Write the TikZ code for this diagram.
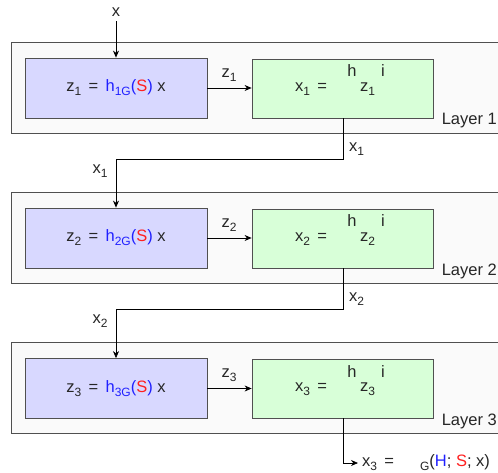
\documentclass[tikz,border=0pt]{standalone}
\usepackage{fontspec}
\setmainfont{Liberation Sans}
\usetikzlibrary{arrows.meta}
\definecolor{boxblue}{HTML}{D8D8FF}
\definecolor{boxgreen}{HTML}{D8FFD8}
\definecolor{outerfill}{HTML}{FAFAFA}
\definecolor{edgegrey}{HTML}{505050}
\definecolor{tblue}{HTML}{2020FF}
\definecolor{tred}{HTML}{FF2020}
\newcommand{\sbs}[1]{\raisebox{-0.45ex}{\fontsize{12}{13}\selectfont #1}}
\tikzset{
  layerbox/.style={draw=edgegrey, line width=0.8pt, fill=outerfill},
  hbox/.style={draw=edgegrey, line width=0.8pt, fill=boxblue, minimum width=182pt, minimum height=60pt, inner sep=0pt},
  gbox/.style={draw=edgegrey, line width=0.8pt, fill=boxgreen, minimum width=181pt, minimum height=59pt, inner sep=0pt},
  conn/.style={draw=black, line width=0.7pt},
  arr/.style={conn, -{Stealth[length=7pt,width=6pt]}},
  txt/.style={font=\fontsize{16.5}{18}\selectfont, inner sep=0pt, text=black!85},
}
\begin{document}
\begin{tikzpicture}[x=1pt,y=-1pt]
\useasboundingbox (0,0) rectangle (498,472);
% outer layer boxes
\path[layerbox] (11,42) rectangle (502,133);
\path[layerbox] (11,192) rectangle (502,283);
\path[layerbox] (11,342) rectangle (502,433);
% inner boxes
\node[hbox] (b1) at (116,88) {};
\node[gbox] (g1) at (342.5,88.5) {};
\node[hbox] (b2) at (116,238) {};
\node[gbox] (g2) at (342.5,238.5) {};
\node[hbox] (b3) at (116,388.5) {};
\node[gbox] (g3) at (342.5,388.5) {};
% blue box texts
\node[txt] (tb1) at (b1) {z\sbs{1}\, = \,\textcolor{tblue}{h\sbs{1G}(}\textcolor{tred}{S}\textcolor{tblue}{)} x};
\node[txt] (tb2) at (b2) {z\sbs{2}\, = \,\textcolor{tblue}{h\sbs{2G}(}\textcolor{tred}{S}\textcolor{tblue}{)} x};
\node[txt] (tb3) at (b3) {z\sbs{3}\, = \,\textcolor{tblue}{h\sbs{3G}(}\textcolor{tred}{S}\textcolor{tblue}{)} x};
% green box texts
\foreach \i/\y in {1/88, 2/238, 3/388.5}{
  \node[txt, anchor=west] (gx\i) at (295,\y+1) {x\sbs{\i}\, =};
  \node[txt, anchor=west] (gz\i) at (360,\y+1) {z\sbs{\i}};
  \node[txt] (gh\i) at (352,\y-17) {h};
  \node[txt] (gi\i) at (383,\y-17) {i};
}
% layer labels
\node[txt, anchor=east] (l1) at (497,121) {Layer 1};
\node[txt, anchor=east] (l2) at (497,271) {Layer 2};
\node[txt, anchor=east] (l3) at (497,421) {Layer 3};
% input
\node[txt] (xin) at (116,12) {x};
\draw[arr] (116,21) coordinate (xs) -- (b1.north);
% z arrows
\draw[arr] (b1.east) -- (g1.west |- b1.east);
\draw[arr] (b2.east) -- (g2.west |- b2.east);
\draw[arr] (b3.east) -- (g3.west |- b3.east);
\node[txt] (zl1) at (229,75) {z\sbs{1}};
\node[txt] (zl2) at (229,225) {z\sbs{2}};
\node[txt] (zl3) at (229,375) {z\sbs{3}};
% inter-layer connectors
\coordinate (c1) at (343,159);
\coordinate (c2) at (343,309);
\draw[arr] (g1.south -| c1) -- (c1) -- (c1 -| b2.north) -- (b2.north);
\draw[arr] (g2.south -| c2) -- (c2) -- (c2 -| b3.north) -- (b3.north);
\node[txt, anchor=west] (xl1a) at (349,149) {x\sbs{1}};
\node[txt] (xl1b) at (100,171) {x\sbs{1}};
\node[txt, anchor=west] (xl2a) at (349,299) {x\sbs{2}};
\node[txt] (xl2b) at (100,321) {x\sbs{2}};
% output
\coordinate (c3) at (343,463);
\node[txt, anchor=west] (out) at (362,463) {x\sbs{3}\, =\hspace{26pt}\raisebox{-0.45ex}{\fontsize{12}{13}\selectfont G}(\textcolor{tblue}{H}; \textcolor{tred}{S}; x)};
\draw[arr] (g3.south -| c3) -- (c3) -- ([xshift=-4pt]out.west |- c3);
\end{tikzpicture}
\end{document}
